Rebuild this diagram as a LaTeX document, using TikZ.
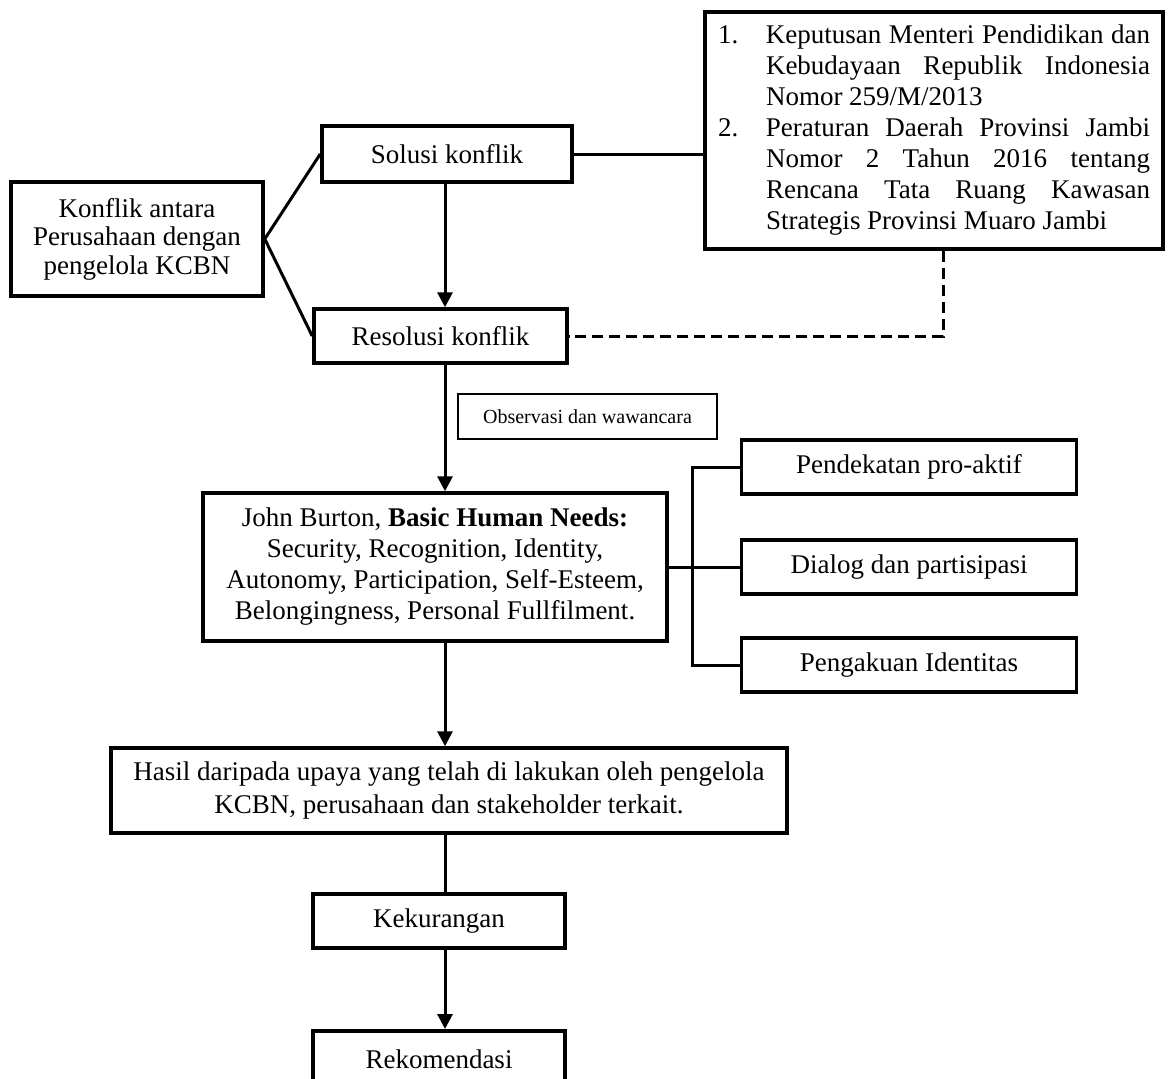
\documentclass[tikz,border=0pt]{standalone}
\usepackage{fontspec}
\setmainfont{Liberation Serif}
\usetikzlibrary{arrows.meta}
\begin{document}
\begin{tikzpicture}[x=1pt,y=-1pt,
  box/.style={draw, line width=3.5pt, inner sep=0pt, align=center, font=\fontsize{27pt}{30pt}\selectfont},
  listbox/.style={draw, line width=3.5pt, inner sep=0pt, font=\fontsize{27pt}{31pt}\selectfont},
  conn/.style={line width=3pt},
  arr/.style={conn, -{Triangle[width=15pt,length=15pt]}},
  dashconn/.style={conn, dash pattern=on 11pt off 6pt}]
\useasboundingbox (0,0) rectangle (1173,1079);
\clip (0,0) rectangle (1173,1079);

\node[listbox, minimum width=458pt, minimum height=237pt] (list) at (934,130.5) {%
\begin{tabular}{@{}p{48pt}@{}p{384pt}@{}}
1. & Keputusan Menteri Pendidikan dan\linebreak Kebudayaan Republik Indonesia\linebreak Nomor 259/M/2013\\
2. & Peraturan Daerah Provinsi Jambi\linebreak Nomor 2 Tahun 2016 tentang\linebreak Rencana Tata Ruang Kawasan\linebreak Strategis Provinsi Muaro Jambi
\end{tabular}};

\node[box, minimum width=250pt, minimum height=56pt] (sol) at (447,154) {Solusi konflik};
\node[box, minimum width=252pt, minimum height=114pt, font=\fontsize{27pt}{28.5pt}\selectfont] (konf) at (137,239) {Konflik antara\\Perusahaan dengan\\pengelola KCBN};
\node[box, minimum width=253pt, minimum height=54pt] (res) at (440.5,336) {Resolusi konflik};
\node[box, line width=2pt, minimum width=259pt, minimum height=45pt, font=\fontsize{20pt}{22pt}\selectfont] (obs) at (587.5,416.5) {Observasi dan wawancara};
\node[box, minimum width=464pt, minimum height=148pt, font=\fontsize{27pt}{31pt}\selectfont] (john) at (435,567) {John Burton, \textbf{Basic Human Needs:}\\Security, Recognition, Identity,\\Autonomy, Participation, Self-Esteem,\\Belongingness, Personal Fullfilment.};
\node[box, minimum width=335pt, minimum height=54pt] (pend) at (909,467) {Pendekatan pro-aktif};
\node[box, minimum width=335pt, minimum height=54pt] (dial) at (909,567) {Dialog dan partisipasi};
\node[box, minimum width=335pt, minimum height=54pt] (peng) at (909,665) {Pengakuan Identitas};
\node[box, minimum width=676pt, minimum height=85pt, font=\fontsize{27pt}{33pt}\selectfont] (has) at (449,790.5) {Hasil daripada upaya yang telah di lakukan oleh pengelola\\KCBN, perusahaan dan stakeholder terkait.};
\node[box, minimum width=252pt, minimum height=54pt] (kek) at (439,921) {Kekurangan};
\node[box, anchor=north, minimum width=252pt, text height=38pt, text depth=60pt] (rek) at (439,1029) {Rekomendasi};

\coordinate (cx) at (445,0);
\coordinate (dx) at (943,0);
\coordinate (bx) at (692,0);

\draw[conn] (sol.west) -- (konf.east) -- (res.west);
\draw[conn] (sol.east) -- (sol.east -| list.west);
\draw[dashconn] (list.south -| dx) |- (res.east);
\draw[arr] (sol.south -| cx) -- (res.north -| cx);
\draw[arr] (res.south -| cx) -- (john.north -| cx);
\draw[arr] (john.south -| cx) -- (has.north -| cx);
\draw[conn] (has.south -| cx) -- (kek.north -| cx);
\draw[arr] (kek.south -| cx) -- (rek.north -| cx);
\draw[conn] (pend.west) -- (pend.west -| bx) -- (peng.west -| bx) -- (peng.west);
\draw[conn] (john.east) -- (dial.west);
\end{tikzpicture}
\end{document}
